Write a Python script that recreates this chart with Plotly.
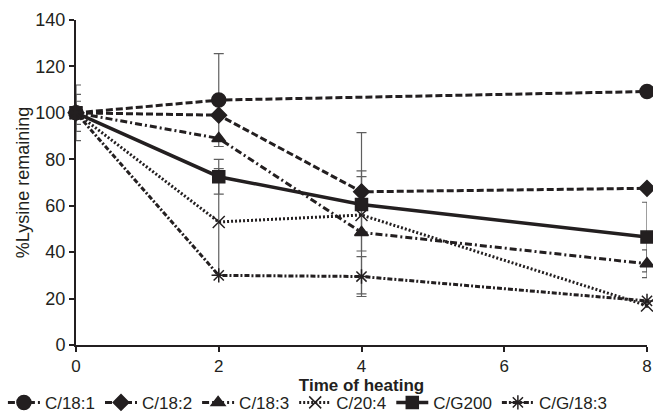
import plotly.graph_objects as go

times = [0, 2, 4, 8]
series_names = ["C/18:1", "C/18:2", "C/18:3", "C/20:4", "C/G200", "C/G/18:3"]
c181 = [100, 105.5, None, 109.2]
c182 = [100, 99, 66, 67.5]
c183 = [100, 89, 48.5, 35]
c204 = [100, 53, 56, 17]
g200 = [100, 72.5, 60.5, 46.5]
g183 = [100, 30, 29.5, 19]

err181 = [12, 20, None, None]
err182 = [8, None, 25.5, None]
err183 = [5, None, 26.5, 6]
err204 = [None, 23, None, None]
errg200 = [None, 7.5, 12, 15]
errg183 = [None, None, 8.6, None]

values = [c181, c182, c183, c204, g200, g183]
errors = [err181, err182, err183, err204, errg200, errg183]
dashes = ["7px,3px", "7px,3px", "7px,3px,2px,3px", "2px,2px", "solid",
          "5px,2px,2px,2px"]
symbols = ["circle", "diamond", "triangle-up", "x-thin-open", "square", "asterisk-open"]
sizes = [14, 12, 12, 12, 12, 12]
ink = "#231f20"

fig = go.Figure()

# error bars (behind lines)
for vals, errs in zip(values, errors):
    xs = [t for t, v, e in zip(times, vals, errs) if e is not None and v is not None]
    ys = [v for t, v, e in zip(times, vals, errs) if e is not None and v is not None]
    es = [e for v, e in zip(vals, errs) if e is not None and v is not None]
    if not xs:
        continue
    fig.add_trace(go.Scatter(
        x=xs, y=ys, mode="markers", marker=dict(opacity=0, size=1),
        error_y=dict(type="data", array=es, visible=True, color="#5f5f5f",
                     thickness=1.2, width=5),
        showlegend=False, hoverinfo="skip", cliponaxis=False))

for name, vals, dash, sym, sz in zip(series_names, values, dashes, symbols, sizes):
    fig.add_trace(go.Scatter(
        x=times, y=vals, name=name, mode="lines+markers", connectgaps=True,
        line=dict(color=ink, width=3.5 if dash == "solid" else 3, dash=dash),
        marker=dict(symbol=sym, size=sz, color=ink,
                    line=dict(color=ink, width=1.5)),
        cliponaxis=False))

fig.update_layout(
    width=653, height=413,
    margin=dict(l=76, r=6, t=20, b=68, autoexpand=False),
    plot_bgcolor="white", paper_bgcolor="white",
    font=dict(family="Liberation Sans, Arial, sans-serif", size=18, color=ink),
    showlegend=True,
    legend=dict(orientation="h", x=-0.128, xanchor="left",
                y=-0.178, yanchor="middle",
                font=dict(size=17), itemwidth=32, tracegroupgap=0,
                bgcolor="rgba(0,0,0,0)"),
    xaxis=dict(range=[0, 8], tickvals=[0, 2, 4, 6, 8], showgrid=False,
               zeroline=False, showline=True, linecolor=ink, linewidth=2,
               ticks="outside", ticklen=5, tickcolor=ink, tickwidth=1.5,
               tickfont=dict(size=17), automargin=True,
               title=dict(text="<b>Time of heating</b>", standoff=0,
                          font=dict(size=17))),
    yaxis=dict(range=[0, 140], tickvals=[0, 20, 40, 60, 80, 100, 120, 140],
               showgrid=False, zeroline=False, showline=True, linecolor=ink,
               linewidth=2, ticks="outside", ticklen=5, tickcolor=ink,
               tickwidth=1.5, tickfont=dict(size=18), automargin=True,
               title=dict(text="%Lysine remaining", standoff=1,
                          font=dict(size=18))),
)

fig.write_html("out.html",
               config={"displayModeBar": False},
               post_script="document.body.style.margin='0';"
                           "document.body.style.overflow='hidden';")
